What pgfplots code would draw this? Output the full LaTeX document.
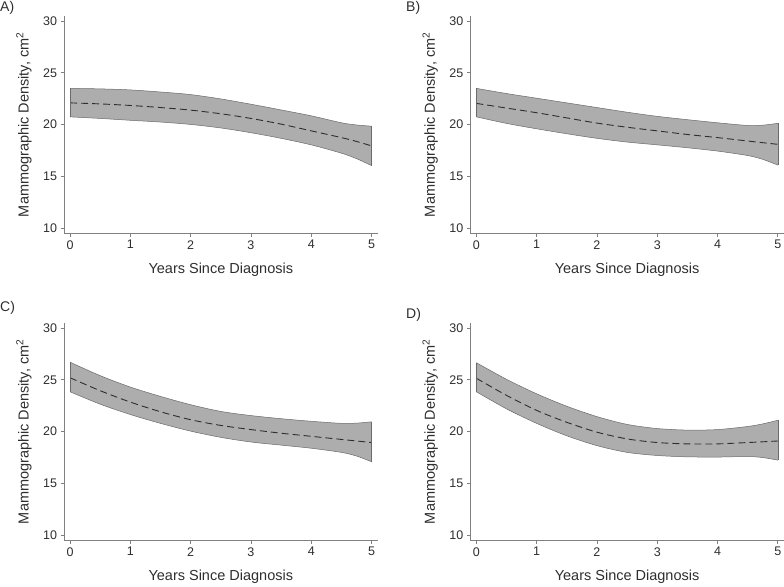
\documentclass[border=0pt]{standalone}
\usepackage{fontspec}
\setmainfont{Liberation Sans}
\usepackage{pgfplots}
\pgfplotsset{compat=1.18}
\usepackage{pgfplotstable}
\usepgfplotslibrary{fillbetween}
\definecolor{band}{HTML}{ADADAD}
\definecolor{edge}{HTML}{6A6A6A}
\definecolor{axisgray}{HTML}{808080}
\definecolor{txt}{HTML}{2E2E2E}

\pgfplotstableread{
x    m     u     l
0    22.10 23.50 20.75
0.5  22.00 23.45 20.60
1    21.85 23.35 20.42
1.5  21.65 23.15 20.25
2    21.40 22.90 20.02
2.5  21.05 22.48 19.68
3    20.60 21.97 19.22
3.5  20.05 21.42 18.68
4    19.40 20.85 18.05
4.5  18.75 20.18 17.25
4.75 18.38 19.97 16.72
5    17.95 19.85 16.05
}\dataA

\pgfplotstableread{
x    m     u     l
0    22.05 23.50 20.75
0.5  21.60 23.00 20.12
1    21.15 22.55 19.60
1.5  20.65 22.10 19.12
2    20.15 21.65 18.68
2.5  19.75 21.20 18.32
3    19.40 20.80 18.05
3.5  19.05 20.48 17.77
4    18.75 20.18 17.45
4.5  18.42 19.92 17.02
4.75 18.26 19.95 16.65
5    18.10 20.13 16.10
}\dataB

\pgfplotstableread{
x    m     u     l
0    25.20 26.70 23.85
0.5  23.95 25.40 22.65
1    22.85 24.30 21.65
1.5  21.92 23.40 20.80
2    21.15 22.60 20.05
2.5  20.60 21.95 19.45
3    20.20 21.55 19.00
3.5  19.85 21.25 18.70
4    19.55 21.00 18.40
4.5  19.25 20.80 18.00
4.75 19.10 20.82 17.65
5    18.95 20.95 17.10
}\dataC

\pgfplotstableread{
x    m     u     l
0    25.15 26.65 23.85
0.5  23.50 25.05 22.20
1    22.05 23.65 20.80
1.5  20.90 22.45 19.60
2    19.95 21.45 18.65
2.5  19.30 20.70 18.00
3    18.95 20.30 17.70
3.5  18.82 20.15 17.57
4    18.82 20.20 17.55
4.5  18.95 20.50 17.60
4.75 19.02 20.75 17.50
5    19.10 21.10 17.25
}\dataD

\pgfplotsset{
 panel/.style={
  scale only axis, width=313.6pt, height=217.3pt,
  xmin=-0.1, xmax=5.1, ymin=9.52, ymax=30.48,
  axis x line*=bottom, axis y line*=left,
  axis line style={axisgray, line width=0.9pt},
  xtick={0,1,2,3,4,5}, ytick={10,15,20,25,30},
  tick align=outside, major tick length=3.5pt,
  every tick/.style={axisgray, line width=0.9pt},
  ticklabel style={font=\fontsize{12.5}{14}\selectfont, text=txt},
  /pgf/number format/assume math mode=true,
  xlabel={Years Since Diagnosis},
  ylabel={Mammographic Density, cm\textsuperscript{2}},
  label style={font=\fontsize{14.5}{16}\selectfont, text=txt},
  xlabel style={at={(axis description cs:0.5,0)}, anchor=center, yshift=-36.7pt},
  ylabel style={at={(axis description cs:-0.1276,0.5)}, anchor=center},
  anchor=south west,
 },
 bandedge/.style={draw=edge, line width=0.5pt, smooth},
 meanline/.style={txt, line width=0.9pt, dash pattern=on 7pt off 4pt, smooth},
}

\begin{document}
\begin{tikzpicture}

\begin{axis}[panel, at={(64pt,352.7pt)}]
  \addplot[draw=none, smooth, name path=uA] table[x=x,y=u]{\dataA};
  \addplot[draw=none, smooth, name path=lA] table[x=x,y=l]{\dataA};
  \addplot[fill=band, draw=none] fill between[of=uA and lA];
  \addplot[bandedge] table[x=x,y=u]{\dataA};
  \addplot[bandedge] table[x=x,y=l]{\dataA};
  \addplot[meanline] table[x=x,y=m]{\dataA};
  \addplot[draw=edge, line width=0.5pt] coordinates {(0,23.50) (0,20.75)};
  \addplot[draw=edge, line width=0.5pt] coordinates {(5,19.85) (5,16.05)};
\end{axis}

\begin{axis}[panel, at={(470.3pt,352.7pt)}]
  \addplot[draw=none, smooth, name path=uB] table[x=x,y=u]{\dataB};
  \addplot[draw=none, smooth, name path=lB] table[x=x,y=l]{\dataB};
  \addplot[fill=band, draw=none] fill between[of=uB and lB];
  \addplot[bandedge] table[x=x,y=u]{\dataB};
  \addplot[bandedge] table[x=x,y=l]{\dataB};
  \addplot[meanline] table[x=x,y=m]{\dataB};
  \addplot[draw=edge, line width=0.5pt] coordinates {(0,23.50) (0,20.75)};
  \addplot[draw=edge, line width=0.5pt] coordinates {(5,20.13) (5,16.10)};
\end{axis}

\begin{axis}[panel, at={(64pt,45.7pt)}]
  \addplot[draw=none, smooth, name path=uC] table[x=x,y=u]{\dataC};
  \addplot[draw=none, smooth, name path=lC] table[x=x,y=l]{\dataC};
  \addplot[fill=band, draw=none] fill between[of=uC and lC];
  \addplot[bandedge] table[x=x,y=u]{\dataC};
  \addplot[bandedge] table[x=x,y=l]{\dataC};
  \addplot[meanline] table[x=x,y=m]{\dataC};
  \addplot[draw=edge, line width=0.5pt] coordinates {(0,26.70) (0,23.85)};
  \addplot[draw=edge, line width=0.5pt] coordinates {(5,20.95) (5,17.10)};
\end{axis}

\begin{axis}[panel, at={(470.3pt,45.7pt)}]
  \addplot[draw=none, smooth, name path=uD] table[x=x,y=u]{\dataD};
  \addplot[draw=none, smooth, name path=lD] table[x=x,y=l]{\dataD};
  \addplot[fill=band, draw=none] fill between[of=uD and lD];
  \addplot[bandedge] table[x=x,y=u]{\dataD};
  \addplot[bandedge] table[x=x,y=l]{\dataD};
  \addplot[meanline] table[x=x,y=m]{\dataD};
  \addplot[draw=edge, line width=0.5pt] coordinates {(0,26.65) (0,23.85)};
  \addplot[draw=edge, line width=0.5pt] coordinates {(5,21.10) (5,17.25)};
\end{axis}

\node[anchor=west, inner sep=0pt, font=\fontsize{14}{16}\selectfont, text=txt] at (0pt,578pt) {A)};
\node[anchor=west, inner sep=0pt, font=\fontsize{14}{16}\selectfont, text=txt] at (406pt,578pt) {B)};
\node[anchor=west, inner sep=0pt, font=\fontsize{14}{16}\selectfont, text=txt] at (0pt,278pt) {C)};
\node[anchor=west, inner sep=0pt, font=\fontsize{14}{16}\selectfont, text=txt] at (406pt,271pt) {D)};

\pgfresetboundingbox
\path[use as bounding box] (0pt,0pt) rectangle (784pt,586pt);
\end{tikzpicture}
\end{document}
